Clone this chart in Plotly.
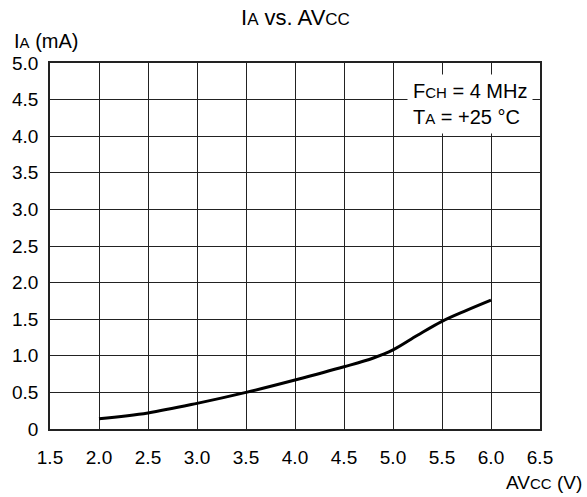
import plotly.graph_objects as go

# supply current vs analog supply voltage
avcc = [2.0, 2.5, 3.0, 3.5, 4.0, 4.5, 4.8, 5.0, 5.25, 5.5, 5.75, 6.0]
ia = [0.14, 0.22, 0.35, 0.50, 0.67, 0.85, 0.97, 1.08, 1.28, 1.47, 1.62, 1.76]

x_ticks = [1.5, 2.0, 2.5, 3.0, 3.5, 4.0, 4.5, 5.0, 5.5, 6.0, 6.5]
x_labels = ["1.5", "2.0", "2.5", "3.0", "3.5", "4.0", "4.5", "5.0", "5.5", "6.0", "6.5"]
y_ticks = [0, 0.5, 1.0, 1.5, 2.0, 2.5, 3.0, 3.5, 4.0, 4.5, 5.0]
y_labels = ["0", "0.5", "1.0", "1.5", "2.0", "2.5", "3.0", "3.5", "4.0", "4.5", "5.0"]


def sm(s, size):
    return '<span style="font-size:%dpx">%s</span>' % (size, s)


fig = go.Figure()
fig.add_trace(go.Scatter(x=avcc, y=ia, mode="lines",
                         line=dict(color="black", width=3, shape="spline"),
                         showlegend=False))

axis_style = dict(showgrid=True, gridcolor="#222", gridwidth=1.3,
                  showline=True, linecolor="#222", linewidth=1.5, mirror=True,
                  zeroline=False, ticks="", tickfont=dict(size=19, color="black"))

fig.update_xaxes(range=[1.5, 6.5], tickvals=x_ticks, ticktext=x_labels,
                 ticklabelstandoff=10, **axis_style)
fig.update_yaxes(range=[0, 5.0], tickvals=y_ticks, ticktext=y_labels,
                 ticklabelstandoff=6, **axis_style)

fig.add_annotation(text="I" + sm("A", 17) + " vs. AV" + sm("CC", 17),
                   xref="paper", yref="paper", x=0.5, y=1.0, yshift=46,
                   yanchor="middle", showarrow=False, font=dict(size=22, color="black"))
fig.add_annotation(text="I" + sm("A", 15) + " (mA)",
                   xref="paper", yref="paper", x=0, y=1.0, xshift=-38, yshift=9,
                   xanchor="left", yanchor="bottom", showarrow=False,
                   font=dict(size=20, color="black"))
fig.add_annotation(text="AV" + sm("CC", 15) + " (V)",
                   xref="paper", yref="paper", x=1.0, y=0, xshift=44, yshift=-53,
                   xanchor="right", yanchor="middle", showarrow=False,
                   font=dict(size=19, color="black"))
fig.add_annotation(text="F" + sm("CH", 15) + " = 4 MHz<br>T" + sm("A", 15) + " = +25 °C",
                   xref="x", yref="y", x=6.43, y=4.85, xanchor="right", yanchor="top",
                   align="left", showarrow=False, bgcolor="white", borderpad=5,
                   font=dict(size=20, color="black"))

fig.update_layout(width=587, height=497,
                  margin=dict(l=50, r=47, t=63, b=68),
                  paper_bgcolor="white", plot_bgcolor="white",
                  font=dict(family="Liberation Sans, Arial, sans-serif", color="black"))

# drop the default page margin so the figure fills the window exactly
fig.write_html("out.html", config={"displayModeBar": False},
               post_script="document.body.style.margin='0';")
